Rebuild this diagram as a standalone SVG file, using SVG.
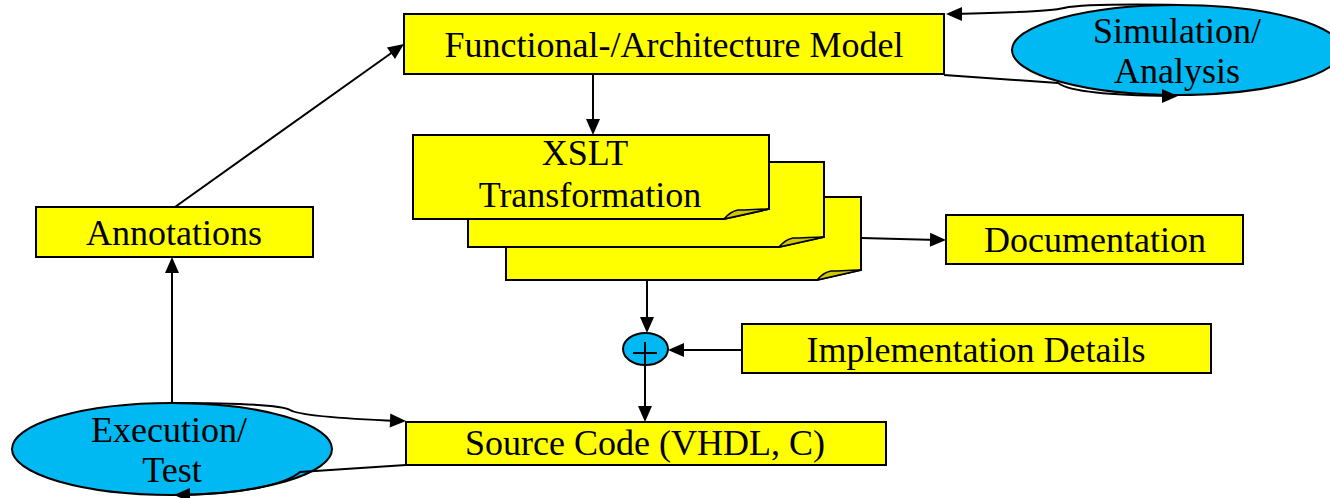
<svg xmlns="http://www.w3.org/2000/svg" width="1330" height="498" viewBox="0 0 1330 498">
  <style>
    .box { fill: #ffff00; stroke: #000; stroke-width: 2; }
    .oval { fill: #00b8f2; stroke: #000; stroke-width: 2; }
    .fold { fill: #cfc800; stroke: #000; stroke-width: 1.5; stroke-linejoin: round; }
    .wire { fill: none; stroke: #000; stroke-width: 2; }
  </style>
  <defs>
    <!-- arrowhead pointing along +x, tip at the origin -->
    <path id="ah" d="M0,0 L-16,-7 L-16,7 Z" fill="#000"/>
  </defs>
  <rect width="1330" height="498" fill="#fff"/>

  <g id="functional-model">
    <rect class="box" x="404" y="14" width="540" height="60"/>
    <text x="674" y="57" font-family="Times New Roman, Liberation Serif, serif" font-size="36" text-anchor="middle">Functional-/Architecture Model</text>
  </g>

  <g id="simulation">
    <ellipse class="oval" cx="1177" cy="50" rx="165" ry="45"/>
    <text x="1177" y="43" font-family="Times New Roman, Liberation Serif, serif" font-size="36" text-anchor="middle">Simulation/</text>
    <text x="1177" y="83" font-family="Times New Roman, Liberation Serif, serif" font-size="36" text-anchor="middle">Analysis</text>
  </g>

  <g id="xslt">
    <!-- three stacked sheets with curled bottom-right corners -->
    <path class="box" d="M506,197 H861 V270 L817,280 H506 Z"/>
    <path class="fold" d="M817,280 C822,274 826,272 831,271 C841,271 852,270 861,270 Z"/>
    <path class="box" d="M468,162 H824 V237 L779,247 H468 Z"/>
    <path class="fold" d="M779,247 C784,241 788,239 793,238 C803,238 814,237 824,237 Z"/>
    <path class="box" d="M413,135 H769 V209 L724,219 H413 Z"/>
    <path class="fold" d="M724,219 C729,213 733,211 738,210 C748,210 759,209 769,209 Z"/>
    <text x="585" y="165" font-family="Times New Roman, Liberation Serif, serif" font-size="36" text-anchor="middle">XSLT</text>
    <text x="590" y="207" font-family="Times New Roman, Liberation Serif, serif" font-size="36" text-anchor="middle">Transformation</text>
  </g>

  <g id="documentation">
    <rect class="box" x="946" y="215" width="297" height="49"/>
    <text x="1095" y="252" font-family="Times New Roman, Liberation Serif, serif" font-size="36" text-anchor="middle">Documentation</text>
  </g>

  <g id="merge">
    <ellipse class="oval" cx="645.5" cy="349" rx="22.5" ry="16"/>
    <path d="M633,353 H657 M645,342 V365" stroke="#000" stroke-width="2"/>
  </g>

  <g id="implementation-details">
    <rect class="box" x="742" y="324" width="469" height="49"/>
    <text x="976" y="362" font-family="Times New Roman, Liberation Serif, serif" font-size="36" text-anchor="middle">Implementation Details</text>
  </g>

  <g id="source-code">
    <rect class="box" x="406" y="422" width="480" height="43"/>
    <text x="645" y="455" font-family="Times New Roman, Liberation Serif, serif" font-size="36" text-anchor="middle">Source Code (VHDL, C)</text>
  </g>

  <g id="annotations">
    <rect class="box" x="36" y="207" width="277" height="50"/>
    <text x="174" y="245" font-family="Times New Roman, Liberation Serif, serif" font-size="36" text-anchor="middle">Annotations</text>
  </g>

  <g id="execution">
    <ellipse class="oval" cx="172" cy="449" rx="160" ry="46"/>
    <text x="169" y="442" font-family="Times New Roman, Liberation Serif, serif" font-size="36" text-anchor="middle">Execution/</text>
    <text x="172" y="482" font-family="Times New Roman, Liberation Serif, serif" font-size="36" text-anchor="middle">Test</text>
  </g>

  <g id="connectors">
    <path class="wire" d="M1180,5 C1120,4 1078,5 1064,8 C1052,11 1000,13 954,14"/>
    <use href="#ah" transform="translate(946,14) rotate(180)"/>
    <path class="wire" d="M944,75 L1058,83 C1070,92 1110,95 1170,96"/>
    <use href="#ah" transform="translate(1178,96)"/>
    <path class="wire" d="M593,74 V127"/>
    <use href="#ah" transform="translate(593,135) rotate(90)"/>
    <path class="wire" d="M861,238 L938,240"/>
    <use href="#ah" transform="translate(946,240) rotate(1.3)"/>
    <path class="wire" d="M647,281 V325"/>
    <use href="#ah" transform="translate(647,333) rotate(90)"/>
    <path class="wire" d="M742,350 H676"/>
    <use href="#ah" transform="translate(668,350) rotate(180)"/>
    <path class="wire" d="M645,365 V414"/>
    <use href="#ah" transform="translate(645,422) rotate(90)"/>
    <path class="wire" d="M172,403 V265"/>
    <use href="#ah" transform="translate(172,257) rotate(-90)"/>
    <path class="wire" d="M175,207 L397,49"/>
    <use href="#ah" transform="translate(404,44) rotate(-35.4)"/>
    <path class="wire" d="M172,403 C230,403 280,404 290,410 C300,416 350,419 398,421"/>
    <use href="#ah" transform="translate(406,421) rotate(2)"/>
    <path class="wire" d="M406,465 L300,472 C285,485 240,494 182,495"/>
    <use href="#ah" transform="translate(174,495) rotate(180)"/>
  </g>
</svg>
